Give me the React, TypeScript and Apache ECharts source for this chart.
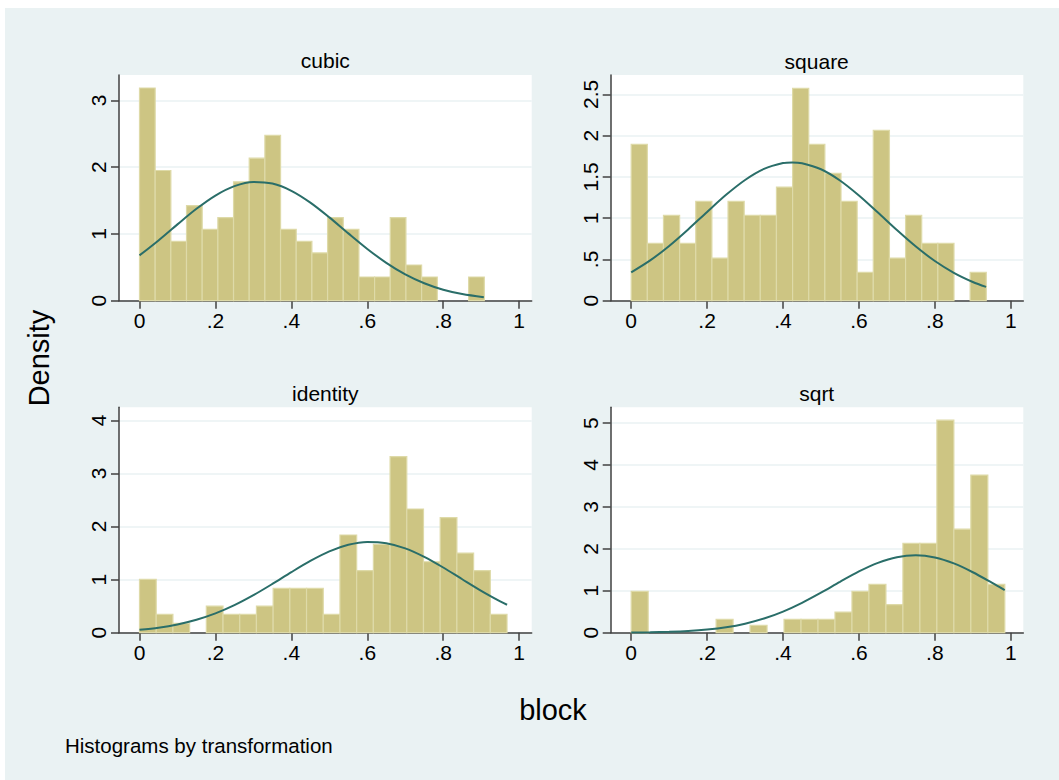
import React, { useEffect, useRef } from 'react';
import * as echarts from 'echarts';

// ---------------- data ----------------
const PANEL_TITLES = ['cubic', 'square', 'identity', 'sqrt'];
const X_TICKS = [0, 0.2, 0.4, 0.6, 0.8, 1];

const CUBIC_Y_TICKS = [0, 1, 2, 3];
const SQUARE_Y_TICKS = [0, 0.5, 1, 1.5, 2, 2.5];
const IDENTITY_Y_TICKS = [0, 1, 2, 3, 4];
const SQRT_Y_TICKS = [0, 1, 2, 3, 4, 5];

const CUBIC_BIN_WIDTH = 0.04128;
const SQUARE_BIN_WIDTH = 0.04252;
const IDENTITY_BIN_WIDTH = 0.044;
const SQRT_BIN_WIDTH = 0.04474;

const CUBIC_DENSITY = [3.185, 1.95, 0.89, 1.425, 1.07, 1.245, 1.78, 2.135, 2.475, 1.07, 0.89, 0.715, 1.245, 1.07, 0.355, 0.355, 1.245, 0.535, 0.355, 0, 0, 0.355];
const SQUARE_DENSITY = [1.894, 0.695, 1.034, 0.695, 1.204, 0.517, 1.204, 1.034, 1.034, 1.377, 2.573, 1.894, 1.543, 1.204, 0.343, 2.064, 0.517, 1.034, 0.695, 0.695, 0, 0.343];
const IDENTITY_DENSITY = [1.005, 0.345, 0.176, 0, 0.502, 0.345, 0.345, 0.502, 0.835, 0.835, 0.835, 0.345, 1.84, 1.168, 1.664, 3.316, 2.33, 1.337, 2.166, 1.5, 1.168, 0.345];
const SQRT_DENSITY = [0.986, 0, 0, 0, 0, 0.318, 0, 0.175, 0, 0.318, 0.318, 0.318, 0.493, 0.986, 1.153, 0.668, 2.13, 2.13, 5.07, 2.47, 3.76, 1.153];

const CUBIC_CURVE_X = [0, 0.05, 0.1, 0.15, 0.2, 0.25, 0.3, 0.35, 0.4, 0.45, 0.5, 0.55, 0.6, 0.65, 0.7, 0.75, 0.8, 0.85, 0.907];
const CUBIC_CURVE_Y = [0.679, 0.903, 1.143, 1.376, 1.575, 1.716, 1.779, 1.754, 1.646, 1.469, 1.248, 1.008, 0.775, 0.567, 0.394, 0.261, 0.164, 0.099, 0.052];
const SQUARE_CURVE_X = [0, 0.05, 0.1, 0.15, 0.2, 0.25, 0.3, 0.35, 0.4, 0.424, 0.45, 0.5, 0.55, 0.6, 0.65, 0.7, 0.75, 0.8, 0.85, 0.9, 0.935];
const SQUARE_CURVE_Y = [0.343, 0.488, 0.664, 0.864, 1.076, 1.283, 1.463, 1.597, 1.668, 1.676, 1.666, 1.593, 1.457, 1.275, 1.068, 0.856, 0.656, 0.481, 0.338, 0.227, 0.167];
const IDENTITY_CURVE_X = [0, 0.05, 0.1, 0.15, 0.2, 0.25, 0.3, 0.35, 0.4, 0.45, 0.5, 0.55, 0.6, 0.65, 0.7, 0.75, 0.8, 0.85, 0.9, 0.95, 0.968];
const IDENTITY_CURVE_Y = [0.056, 0.095, 0.156, 0.244, 0.364, 0.519, 0.707, 0.919, 1.141, 1.352, 1.532, 1.656, 1.71, 1.687, 1.589, 1.429, 1.228, 1.007, 0.789, 0.59, 0.526];
const SQRT_CURVE_X = [0, 0.05, 0.1, 0.15, 0.2, 0.25, 0.3, 0.35, 0.4, 0.45, 0.5, 0.55, 0.6, 0.65, 0.7, 0.75, 0.8, 0.85, 0.9, 0.95, 0.984];
const SQRT_CURVE_Y = [0.005, 0.01, 0.021, 0.04, 0.074, 0.129, 0.215, 0.338, 0.504, 0.713, 0.955, 1.213, 1.461, 1.666, 1.802, 1.847, 1.794, 1.652, 1.442, 1.193, 1.017];

const X_AXIS_TITLE = 'block';
const Y_AXIS_TITLE = 'Density';
const NOTE = 'Histograms by transformation';

// ---------------- layout / style ----------------
const OX = 5;
const OY = 8;
const FONT = '"Liberation Sans", Arial, Helvetica, sans-serif';
const BG = '#EAF2F3';
const BAR_FILL = '#CDC583';
const BAR_STROKE = '#DEDAA8';
const CURVE = '#2A6E69';
const AXIS = '#404040';

const PANELS = [
  { left: 119, top: 75, width: 412.7, height: 225.7, ymax: 3.38, ticks: CUBIC_Y_TICKS, step: 1, dens: CUBIC_DENSITY, bw: CUBIC_BIN_WIDTH, cx: CUBIC_CURVE_X, cy: CUBIC_CURVE_Y, tx: 325.3, ty: 60.7 },
  { left: 610.7, top: 75, width: 412.6, height: 225.7, ymax: 2.735, ticks: SQUARE_Y_TICKS, step: 0.5, dens: SQUARE_DENSITY, bw: SQUARE_BIN_WIDTH, cx: SQUARE_CURVE_X, cy: SQUARE_CURVE_Y, tx: 816.7, ty: 61.2 },
  { left: 119, top: 407.3, width: 412.7, height: 225.4, ymax: 4.246, ticks: IDENTITY_Y_TICKS, step: 1, dens: IDENTITY_DENSITY, bw: IDENTITY_BIN_WIDTH, cx: IDENTITY_CURVE_X, cy: IDENTITY_CURVE_Y, tx: 325.3, ty: 393.3 },
  { left: 610.7, top: 407.3, width: 412.6, height: 225.4, ymax: 5.376, ticks: SQRT_Y_TICKS, step: 1, dens: SQRT_DENSITY, bw: SQRT_BIN_WIDTH, cx: SQRT_CURVE_X, cy: SQRT_CURVE_Y, tx: 816.7, ty: 393.3 },
];

const fmt = (v: number) => {
  const s = String(+v.toFixed(4));
  return s.startsWith('0.') ? s.slice(1) : s;
};

export default function App() {
  const ref = useRef<HTMLDivElement>(null);
  useEffect(() => {
    if (!ref.current) return;
    const chart = echarts.init(ref.current, null, { renderer: 'svg' });
    const grids: any[] = [];
    const xAxes: any[] = [];
    const yAxes: any[] = [];
    const series: any[] = [];
    const graphics: any[] = [];

    PANELS.forEach((p, i) => {
      grids.push({
        left: p.left - OX,
        top: p.top - OY,
        width: p.width,
        height: p.height,
        show: true,
        backgroundColor: '#ffffff',
        borderWidth: 0,
      });
      xAxes.push({
        type: 'value',
        gridIndex: i,
        min: -0.054,
        max: 1.033,
        axisLine: { show: true, onZero: false, lineStyle: { color: AXIS, width: 1.5 } },
        axisTick: { show: true, length: 8, inside: false, customValues: X_TICKS, lineStyle: { color: AXIS, width: 1.5 } },
        axisLabel: { customValues: X_TICKS, formatter: fmt, fontSize: 21, color: '#000', fontFamily: FONT, margin: 9 },
        splitLine: { show: false },
      });
      yAxes.push({
        type: 'value',
        gridIndex: i,
        min: 0,
        max: p.ymax,
        interval: p.step,
        axisLine: { show: true, onZero: false, lineStyle: { color: AXIS, width: 1.5 } },
        axisTick: { show: true, length: 8, inside: false, customValues: p.ticks, lineStyle: { color: AXIS, width: 1.5 } },
        axisLabel: { customValues: p.ticks, formatter: fmt, fontSize: 21, color: '#000', fontFamily: FONT, rotate: 90, margin: 10 },
        splitLine: { show: true, lineStyle: { color: BG, width: 1.5 } },
      });
      const bins = p.dens
        .map((d, j) => [j * p.bw, (j + 1) * p.bw, d])
        .filter((b) => b[2] > 0);
      series.push({
        type: 'custom',
        xAxisIndex: i,
        yAxisIndex: i,
        data: bins,
        encode: { x: [0, 1], y: 2 },
        renderItem: (params: any, api: any) => {
          const a = api.coord([api.value(0), api.value(2)]);
          const b = api.coord([api.value(1), 0]);
          return {
            type: 'rect',
            shape: { x: a[0], y: a[1], width: b[0] - a[0], height: b[1] - a[1] },
            style: { fill: BAR_FILL, stroke: BAR_STROKE, lineWidth: 1.2 },
          };
        },
        z: 2,
      });
      series.push({
        type: 'line',
        xAxisIndex: i,
        yAxisIndex: i,
        data: p.cx.map((x, k) => [x, p.cy[k]]),
        showSymbol: false,
        smooth: 0.3,
        lineStyle: { color: CURVE, width: 2 },
        z: 3,
      });
      graphics.push({
        type: 'text',
        x: p.tx - OX,
        y: p.ty - OY,
        style: { text: PANEL_TITLES[i], fontSize: 21, fontFamily: FONT, fill: '#000', align: 'center', verticalAlign: 'middle' },
      });
    });

    graphics.push({
      type: 'text',
      x: 39 - OX,
      y: 358 - OY,
      rotation: Math.PI / 2,
      style: { text: Y_AXIS_TITLE, fontSize: 29, fontFamily: FONT, fill: '#000', align: 'center', verticalAlign: 'middle' },
    });
    graphics.push({
      type: 'text',
      x: 553 - OX,
      y: 710 - OY,
      style: { text: X_AXIS_TITLE, fontSize: 29, fontFamily: FONT, fill: '#000', align: 'center', verticalAlign: 'middle' },
    });
    graphics.push({
      type: 'text',
      x: 65 - OX,
      y: 745 - OY,
      style: { text: NOTE, fontSize: 20.5, fontFamily: FONT, fill: '#000', align: 'left', verticalAlign: 'middle' },
    });

    chart.setOption({
      animation: false,
      backgroundColor: BG,
      grid: grids,
      xAxis: xAxes,
      yAxis: yAxes,
      series,
      graphic: graphics,
    });
    return () => chart.dispose();
  }, []);
  return (
    <div
      ref={ref}
      style={{ position: 'absolute', left: OX, top: OY, width: 1059 - OX, height: 780 - OY }}
    />
  );
}
